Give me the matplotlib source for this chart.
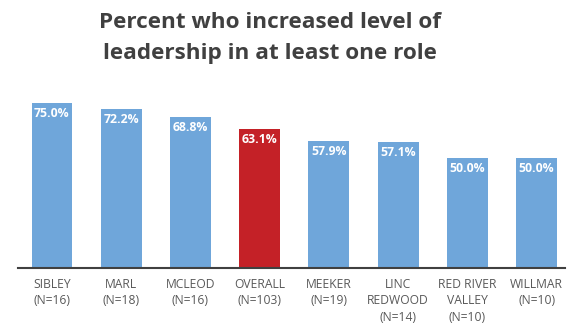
import matplotlib
matplotlib.use("Agg")
import matplotlib.pyplot as plt

categories = ["SIBLEY\n(N=16)", "MARL\n(N=18)", "MCLEOD\n(N=16)", "OVERALL\n(N=103)",
              "MEEKER\n(N=19)", "LINC\nREDWOOD\n(N=14)", "RED RIVER\nVALLEY\n(N=10)", "WILLMAR\n(N=10)"]
values = [75.0, 72.2, 68.8, 63.1, 57.9, 57.1, 50.0, 50.0]
highlight = "OVERALL\n(N=103)"

BLUE = "#6fa6da"
RED = "#c42127"

plt.rcParams["font.family"] = ["Open Sans", "DejaVu Sans"]

fig = plt.figure(figsize=(5.72, 3.30), dpi=100)
ax = fig.add_axes([18 / 572, 1 - 268 / 330, 547 / 572, 176 / 330])

x = range(len(categories))
colors = [RED if c == highlight else BLUE for c in categories]
bars = ax.bar(x, values, width=0.59, color=colors)

for b, v in zip(bars, values):
    ax.text(b.get_x() + b.get_width() / 2, v - 1.8, f"{v:.1f}%", ha="center", va="top",
            color="white", fontsize=8.8, fontweight="bold")

ax.set_xlim(-0.49, 7.41)
ax.set_ylim(0, 80)
ax.set_xticks(list(x))
ax.set_xticklabels(categories, fontsize=8.7, color="#595959", linespacing=1.35)
ax.tick_params(axis="x", length=0, pad=7)
ax.set_yticks([])
for s in ["top", "right", "left"]:
    ax.spines[s].set_visible(False)
ax.spines["bottom"].set_color("#404040")
ax.spines["bottom"].set_linewidth(1.5)

fig.text(0.472, 0.963, "Percent who increased level of\nleadership in at least one role",
         ha="center", va="top", fontsize=16.2, fontweight="bold", color="#404040",
         linespacing=1.6)

fig.savefig("out.png", dpi=100)
